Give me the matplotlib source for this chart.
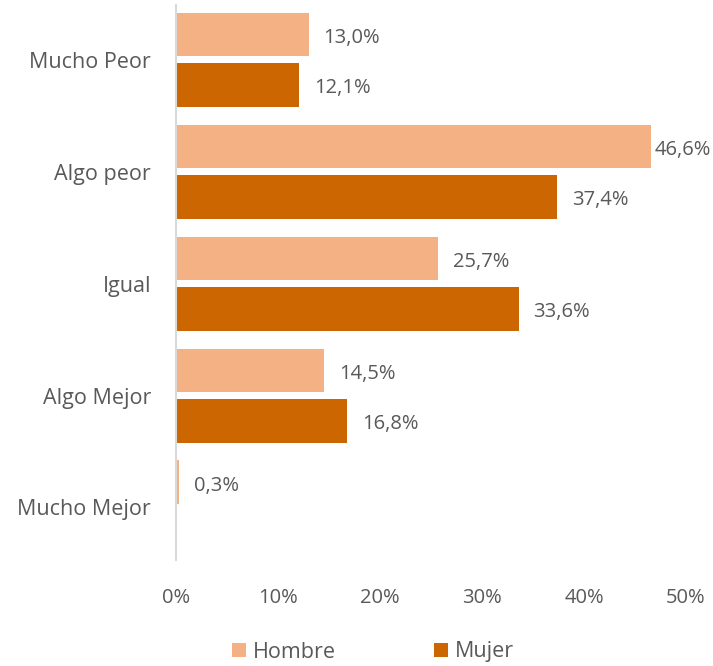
import numpy as np
import matplotlib
matplotlib.use("Agg")
import matplotlib.pyplot as plt

categorias = ["Mucho Peor", "Algo peor", "Igual", "Algo Mejor", "Mucho Mejor"]
hombre = [13.0, 46.6, 25.7, 14.5, 0.3]
mujer = [12.1, 37.4, 33.6, 16.8, 0.0]
series = ["Hombre", "Mujer"]
colores = ["#F4B183", "#CC6600"]
gris = "#595959"

plt.rcParams["font.family"] = ["Open Sans", "DejaVu Sans"]

fig = plt.figure(figsize=(7.13, 6.66), dpi=100)
ax = fig.add_axes([176/713, 1 - 560/666, 510/713, 555/666])

y = np.arange(len(categorias))
h = 0.39
off = 0.225
for vals, col, lab, d in [(hombre, colores[0], series[0], -off), (mujer, colores[1], series[1], off)]:
    bars = ax.barh(y + d, vals, height=h, color=col, label=lab)
    for b, v in zip(bars, vals):
        if v > 0:
            # como en Excel: la etiqueta no se sale del area del grafico
            x = min(v + 1.45, 46.95)
            ax.text(x, b.get_y() + b.get_height() / 2 + 0.03, f"{v:.1f}%".replace(".", ","),
                    va="center", ha="left", fontsize=14.5, color=gris)

ax.set_xlim(0, 50)
ax.set_ylim(4.47, -0.49)
ax.set_yticks(y)
ax.set_yticklabels(categorias, fontsize=15.5, color=gris)
ax.set_xticks(np.arange(0, 51, 10))
ax.set_xticklabels([f"{t}%" for t in range(0, 51, 10)], fontsize=14.5, color=gris)
ax.tick_params(axis="both", length=0)
ax.tick_params(axis="y", pad=18)
ax.tick_params(axis="x", pad=20)
for s in ["top", "right", "bottom"]:
    ax.spines[s].set_visible(False)
ax.spines["left"].set_color("#D9D9D9")
ax.spines["left"].set_linewidth(1.5)

fig.legend(loc="center", bbox_to_anchor=(373/713, 1 - 652/666), ncol=2, frameon=False,
           fontsize=15.5, labelcolor=gris, handlelength=0.65, handleheight=0.65,
           handletextpad=0.3, columnspacing=4.6)

fig.savefig("out.png", dpi=100)
